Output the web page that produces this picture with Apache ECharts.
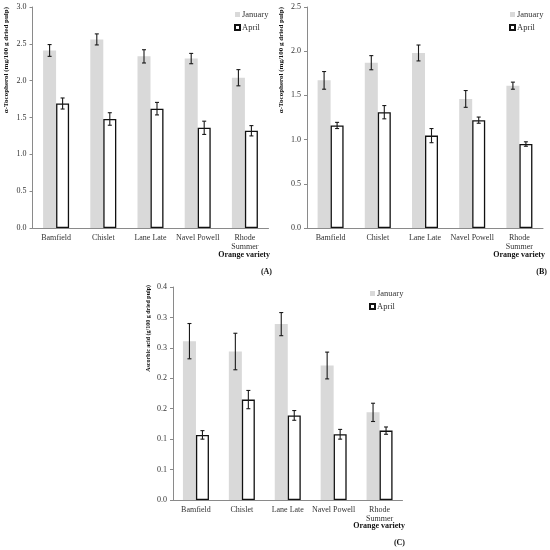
<!DOCTYPE html>
<html>
<head>
<meta charset="utf-8">
<script src="https://cdn.jsdelivr.net/npm/echarts@6/dist/echarts.min.js"></script>
<style>
  html, body { margin: 0; padding: 0; background: #fff; }
  #chart { width: 550px; height: 550px; }
</style>
</head>
<body>
<div id="chart"></div>
<script>
// orange varieties on the x axis
const varieties = ["Bamfield", "Chislet", "Lane Late", "Navel Powell", "Rhode\nSummer"];

// (A) alpha-tocopherol, mg/100 g dried pulp
const tocoA_jan = [2.41, 2.56, 2.33, 2.30, 2.04];
const tocoA_janErr = [0.08, 0.075, 0.09, 0.07, 0.11];
const tocoA_apr = [1.69, 1.48, 1.62, 1.36, 1.32];
const tocoA_aprErr = [0.075, 0.085, 0.085, 0.09, 0.07];

// (B) alpha-tocopherol, mg/100 g dried pulp
const tocoB_jan = [1.67, 1.87, 1.98, 1.46, 1.61];
const tocoB_janErr = [0.10, 0.08, 0.09, 0.095, 0.04];
const tocoB_apr = [1.16, 1.31, 1.045, 1.22, 0.95];
const tocoB_aprErr = [0.035, 0.075, 0.08, 0.035, 0.025];

// (C) ascorbic acid, g/100 g dried pulp
const ascC_jan = [0.261, 0.244, 0.289, 0.221, 0.144];
const ascC_janErr = [0.029, 0.030, 0.019, 0.022, 0.015];
const ascC_apr = [0.107, 0.165, 0.139, 0.108, 0.114];
const ascC_aprErr = [0.007, 0.015, 0.008, 0.008, 0.006];

// tick labels as printed (panel C rounds its 0.05 steps to one decimal)
const ticksA = ["0.0", "0.5", "1.0", "1.5", "2.0", "2.5", "3.0"];
const ticksB = ["0.0", "0.5", "1.0", "1.5", "2.0", "2.5"];
const ticksC = ["0.0", "0.1", "0.1", "0.2", "0.2", "0.3", "0.3", "0.4"];

const FONT = "Liberation Serif";
const BAR_W = 13;

const chart = echarts.init(document.getElementById("chart"));

function errRender(offset) {
  return function (params, api) {
    const c = api.value(0), v = api.value(1), e = api.value(2);
    const top = api.coord([c, v + e]);
    const bot = api.coord([c, v - e]);
    const x = top[0] + offset;
    const s = { stroke: "#1a1a1a", lineWidth: 1.1 };
    return {
      type: "group",
      children: [
        { type: "line", shape: { x1: x, y1: top[1], x2: x, y2: bot[1] }, style: s },
        { type: "line", shape: { x1: x - 2, y1: top[1], x2: x + 2, y2: top[1] }, style: s },
        { type: "line", shape: { x1: x - 2, y1: bot[1], x2: x + 2, y2: bot[1] }, style: s }
      ]
    };
  };
}

function xAx(i) {
  return {
    type: "category", gridIndex: i, data: varieties,
    axisLine: { lineStyle: { color: "#8a8a8a", width: 1 } },
    axisTick: { length: 3, lineStyle: { color: "#8a8a8a" } },
    axisLabel: { fontFamily: FONT, fontSize: 8, color: "#333", margin: 5, lineHeight: 9, interval: 0 }
  };
}

function yAx(i, max, step, ticks) {
  return {
    type: "value", gridIndex: i, min: 0, max: max, interval: step,
    axisLine: { show: true, lineStyle: { color: "#8a8a8a", width: 1 } },
    axisTick: { show: true, length: 3, lineStyle: { color: "#8a8a8a" } },
    splitLine: { show: false },
    axisLabel: {
      fontFamily: FONT, fontSize: 8, color: "#333", margin: 6,
      formatter: (v) => ticks[Math.round(v / step)]
    }
  };
}

function panel(i, jan, janErr, apr, aprErr) {
  return [
    {
      name: "January", type: "bar", xAxisIndex: i, yAxisIndex: i, data: jan,
      barWidth: BAR_W, barGap: "0%",
      itemStyle: { color: "#d9d9d9" }
    },
    {
      name: "April", type: "bar", xAxisIndex: i, yAxisIndex: i, data: apr,
      barWidth: BAR_W, barGap: "0%",
      itemStyle: { color: "#fff", borderColor: "#111", borderWidth: 1.3 }
    },
    {
      name: "January error", type: "custom", xAxisIndex: i, yAxisIndex: i, z: 5,
      renderItem: errRender(-BAR_W / 2), encode: { x: 0, y: 1 },
      data: jan.map((v, k) => [k, v, janErr[k]])
    },
    {
      name: "April error", type: "custom", xAxisIndex: i, yAxisIndex: i, z: 5,
      renderItem: errRender(BAR_W / 2), encode: { x: 0, y: 1 },
      data: apr.map((v, k) => [k, v, aprErr[k]])
    }
  ];
}

function legend(left, top) {
  return {
    left: left, top: top, orient: "vertical", icon: "rect", padding: 0,
    itemWidth: 5, itemHeight: 5, itemGap: 4,
    data: ["January", "April"],
    textStyle: { fontFamily: FONT, fontSize: 8.5, color: "#333", padding: [0, 0, 0, -3] }
  };
}

function yName(x, y, text, size) {
  return {
    type: "text", x: x, y: y, rotation: Math.PI / 2,
    style: { text: text, fontFamily: FONT, fontWeight: "bold", fontSize: size, fill: "#111",
             textAlign: "right", textVerticalAlign: "middle" }
  };
}

function label(x, y, text) {
  return {
    type: "text", x: x, y: y,
    style: { text: text, fontFamily: FONT, fontWeight: "bold", fontSize: 8, fill: "#111",
             textAlign: "right", textVerticalAlign: "middle" }
  };
}

chart.setOption({
  animation: false,
  grid: [
    { left: 32.5, right: 281.5, top: 7, bottom: 322 },
    { left: 307, right: 7, top: 7, bottom: 322 },
    { left: 173, right: 147.5, top: 287, bottom: 50 }
  ],
  xAxis: [xAx(0), xAx(1), xAx(2)],
  yAxis: [
    yAx(0, 3.0, 0.5, ticksA),
    yAx(1, 2.5, 0.5, ticksB),
    yAx(2, 0.35, 0.05, ticksC)
  ],
  legend: [legend(234, 10), legend(509, 10), legend(369, 289)],
  series: [].concat(
    panel(0, tocoA_jan, tocoA_janErr, tocoA_apr, tocoA_aprErr),
    panel(1, tocoB_jan, tocoB_janErr, tocoB_apr, tocoB_aprErr),
    panel(2, ascC_jan, ascC_janErr, ascC_apr, ascC_aprErr)
  ),
  graphic: [
    yName(6, 7, "α-Tocopherol (mg/100 g dried pulp)", 7),
    yName(281, 7, "α-Tocopherol (mg/100 g dried pulp)", 7),
    yName(148, 285, "Ascorbic acid (g/100 g dried pulp)", 6),
    label(270, 255, "Orange variety"),
    label(545, 255, "Orange variety"),
    label(405, 526, "Orange variety"),
    label(272, 272, "(A)"),
    label(547, 272, "(B)"),
    label(405, 543, "(C)")
  ]
});
</script>
</body>
</html>
